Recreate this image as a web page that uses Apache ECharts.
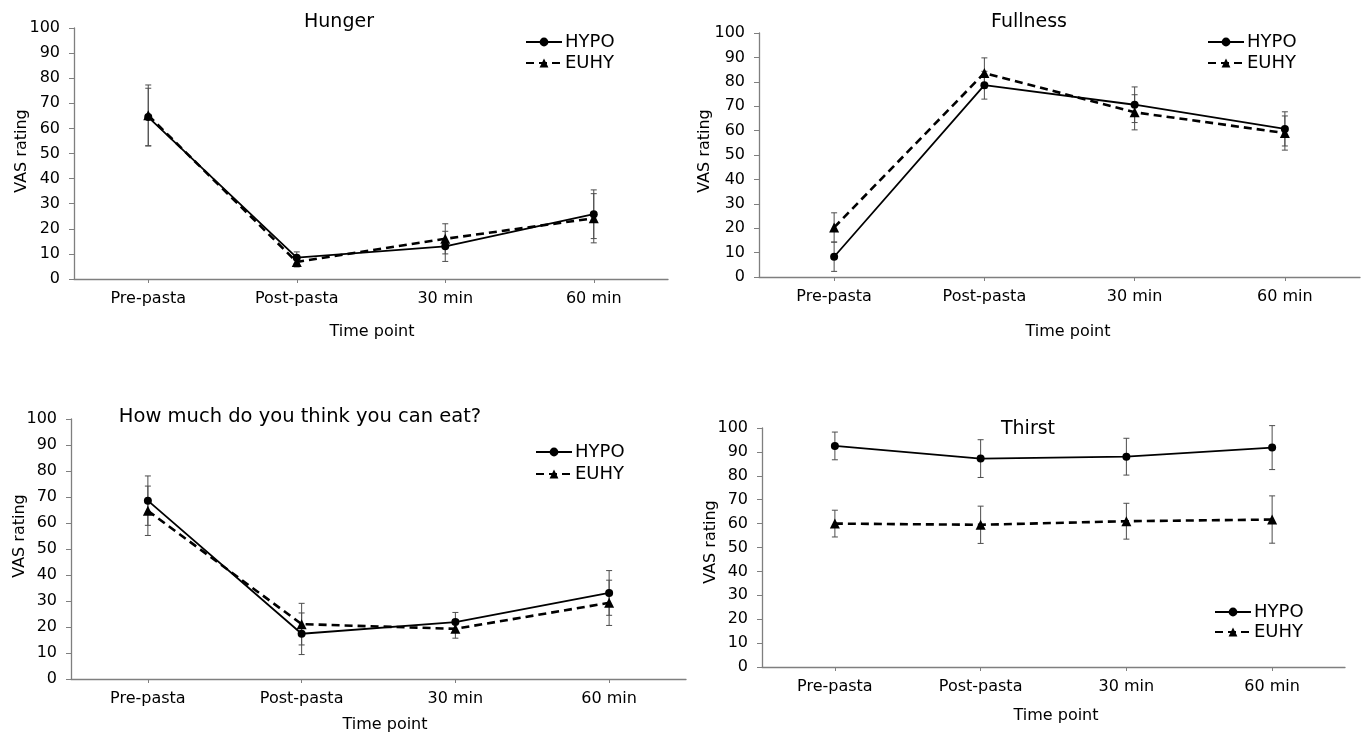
<!DOCTYPE html>
<html>
<head>
<meta charset="utf-8">
<script src="https://cdn.jsdelivr.net/npm/echarts@6/dist/echarts.min.js"></script>
<style>
html,body{margin:0;padding:0;background:#fff;}
#chart{width:1365px;height:732px;}
</style>
</head>
<body>
<div id="chart"></div>
<script>
// ---- data ----
const categories = ['Pre-pasta', 'Post-pasta', '30 min', '60 min'];
const yMin = 0, yMax = 100, yStep = 10;
const seriesNames = ['HYPO', 'EUHY'];
const panelTitles = ['Hunger', 'Fullness', 'How much do you think you can eat?', 'Thirst'];
const xAxisTitle = 'Time point';
const yAxisTitle = 'VAS rating';

const hungerHypo = [64.5, 8.5, 13.0, 25.8];
const hungerHypoErr = [11.5, 2.3, 6.0, 9.7];
const hungerEuhy = [65.2, 6.8, 16.0, 24.2];
const hungerEuhyErr = [12.1, 2.0, 6.0, 9.8];

const fullnessHypo = [8.3, 78.6, 70.6, 60.7];
const fullnessHypoErr = [6.0, 5.7, 7.3, 7.0];
const fullnessEuhy = [20.3, 83.6, 67.5, 59.0];
const fullnessEuhyErr = [6.0, 6.2, 7.2, 7.0];

const eatHypo = [68.6, 17.4, 21.9, 33.1];
const eatHypoErr = [9.5, 8.0, 3.7, 8.6];
const eatEuhy = [64.7, 21.1, 19.3, 29.3];
const eatEuhyErr = [9.5, 8.0, 3.6, 8.7];

const thirstHypo = [92.5, 87.2, 88.0, 91.8];
const thirstHypoErr = [5.8, 7.9, 7.7, 9.2];
const thirstEuhy = [60.0, 59.5, 61.0, 61.7];
const thirstEuhyErr = [5.6, 7.8, 7.5, 9.9];

// ---- layout ----
const FONT = 'DejaVu Sans';
const grids = [
  {left: 74, top: 28, width: 594, height: 251},
  {left: 759, top: 33, width: 601, height: 244},
  {left: 71, top: 419, width: 615, height: 260},
  {left: 762, top: 428, width: 583, height: 239}
];
const titlePos = [[339, 22, 19], [1029, 22, 19], [300, 417, 19.5], [1028, 429, 19]];
const xNamePos = [[372, 332], [1068, 332], [385, 725], [1056, 716]];
const yNamePos = [[22, 151], [705, 151], [20, 536], [711, 542]];
const legendPos = [[525, 42, 63], [1207, 42, 63], [535, 452, 474], [1214, 612, 632]];

const panels = [
  [hungerHypo, hungerHypoErr, hungerEuhy, hungerEuhyErr],
  [fullnessHypo, fullnessHypoErr, fullnessEuhy, fullnessEuhyErr],
  [eatHypo, eatHypoErr, eatEuhy, eatEuhyErr],
  [thirstHypo, thirstHypoErr, thirstEuhy, thirstEuhyErr]
];

const axisGrey = '#7f7f7f';
const lineStyles = [
  {color: '#000', width: 1.8, type: 'solid'},
  {color: '#000', width: 2.6, type: [8, 5]}
];
const symbols = [['circle', 8], ['triangle', 10]];

function errorRender(params, api) {
  const x = api.value(0), m = api.value(1), e = api.value(2);
  const lo = api.coord([x, m - e]);
  const hi = api.coord([x, m + e]);
  const cap = 3;
  const st = {stroke: '#4d4d4d', lineWidth: 1};
  return {
    type: 'group',
    children: [
      {type: 'line', shape: {x1: lo[0], y1: lo[1], x2: hi[0], y2: hi[1]}, style: st},
      {type: 'line', shape: {x1: lo[0] - cap, y1: lo[1], x2: lo[0] + cap, y2: lo[1]}, style: st},
      {type: 'line', shape: {x1: hi[0] - cap, y1: hi[1], x2: hi[0] + cap, y2: hi[1]}, style: st}
    ]
  };
}

const xAxes = [], yAxes = [], series = [], legends = [], graphics = [];
grids.forEach((g, i) => {
  xAxes.push({
    type: 'category', gridIndex: i, data: categories, boundaryGap: true,
    axisLine: {show: true, lineStyle: {color: axisGrey, width: 1.3}},
    axisTick: {show: true, alignWithLabel: true, length: 4, lineStyle: {color: axisGrey}},
    axisLabel: {color: '#000', fontFamily: FONT, fontSize: 16, margin: 12},
    splitLine: {show: false}
  });
  yAxes.push({
    type: 'value', gridIndex: i, min: yMin, max: yMax, interval: yStep,
    axisLine: {show: true, lineStyle: {color: axisGrey, width: 1.3}},
    axisTick: {show: true, length: 5, lineStyle: {color: axisGrey}},
    axisLabel: {color: '#000', fontFamily: FONT, fontSize: 16, margin: 14},
    splitLine: {show: false}
  });
  const d = panels[i];
  [0, 1].forEach(k => {
    const means = d[k * 2], errs = d[k * 2 + 1];
    series.push({
      type: 'custom', name: seriesNames[k] + ' err', xAxisIndex: i, yAxisIndex: i,
      renderItem: errorRender, z: 1, silent: true,
      encode: {x: 0, y: 1},
      data: means.map((m, j) => [j, m, errs[j]])
    });
  });
  [0, 1].forEach(k => {
    series.push({
      type: 'line', name: seriesNames[k], xAxisIndex: i, yAxisIndex: i,
      data: d[k * 2], symbol: symbols[k][0], symbolSize: symbols[k][1],
      showSymbol: true, z: 3,
      itemStyle: {color: '#000'},
      lineStyle: lineStyles[k]
    });
  });
  const lp = legendPos[i];
  [0, 1].forEach(k => {
    legends.push({
      data: [seriesNames[k]], orient: 'vertical', left: lp[0], top: lp[k + 1] - 9,
      padding: 0, itemWidth: 36, itemHeight: 11, selectedMode: false,
      textStyle: {color: '#000', fontFamily: FONT, fontSize: 18, lineHeight: 18, padding: [0, 0, 0, -2]}
    });
  });
  const tp = titlePos[i];
  graphics.push({type: 'text', x: tp[0], y: tp[1], style: {text: panelTitles[i], font: tp[2] + 'px "' + FONT + '"', fill: '#000', textAlign: 'center', textVerticalAlign: 'middle', align: 'center', verticalAlign: 'middle'}});
  const xp = xNamePos[i];
  graphics.push({type: 'text', x: xp[0], y: xp[1], style: {text: xAxisTitle, font: '16px "' + FONT + '"', fill: '#000', textAlign: 'center', textVerticalAlign: 'middle', align: 'center', verticalAlign: 'middle'}});
  const yp = yNamePos[i];
  graphics.push({type: 'text', x: yp[0], y: yp[1], rotation: Math.PI / 2, style: {text: yAxisTitle, font: '16px "' + FONT + '"', fill: '#000', textAlign: 'center', textVerticalAlign: 'middle', align: 'center', verticalAlign: 'middle'}});
});

const chart = echarts.init(document.getElementById('chart'));
chart.setOption({
  animation: false,
  backgroundColor: '#fff',
  grid: grids,
  xAxis: xAxes,
  yAxis: yAxes,
  legend: legends,
  series: series,
  graphic: {elements: graphics}
});
</script>
</body>
</html>
